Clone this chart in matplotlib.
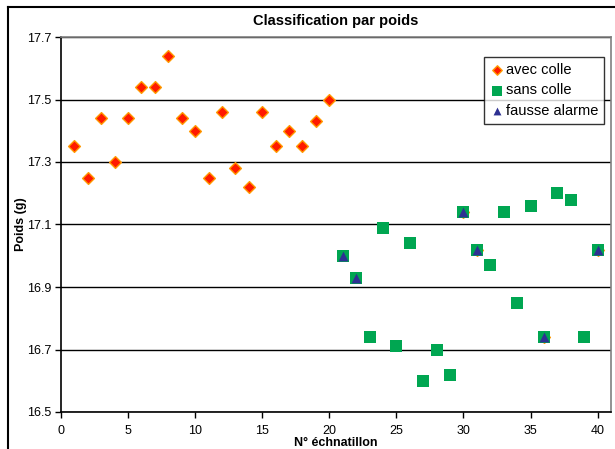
import matplotlib
matplotlib.use("Agg")
import matplotlib.pyplot as plt
from matplotlib.lines import Line2D

plt.rcParams['font.family'] = ['Liberation Sans', 'DejaVu Sans']

# Data
x_avec = list(range(1, 21)) + [30, 31, 36, 40]
y_avec = [17.35, 17.25, 17.44, 17.30, 17.44, 17.54, 17.54, 17.64, 17.44, 17.40,
          17.25, 17.46, 17.28, 17.22, 17.46, 17.35, 17.40, 17.35, 17.43, 17.50,
          17.14, 17.02, 16.74, 17.02]
x_sans = list(range(21, 41))
y_sans = [17.00, 16.93, 16.74, 17.09, 16.71, 17.04, 16.60, 16.70, 16.62, 17.14,
          17.02, 16.97, 17.14, 16.85, 17.16, 16.74, 17.20, 17.18, 16.74, 17.02]
x_fausse = [21, 22, 30, 31, 36, 40]
y_fausse = [17.00, 16.93, 17.14, 17.02, 16.74, 17.02]

yticks = [16.5, 16.7, 16.9, 17.1, 17.3, 17.5, 17.7]
xticks = [0, 5, 10, 15, 20, 25, 30, 35, 40]

fig = plt.figure(figsize=(6.15, 4.49), dpi=100)
ax = fig.add_axes([61/615, 1-412/449, (611-61)/615, (412-37)/449])

ax.scatter(x_avec, y_avec, marker='D', s=36, facecolor='#FF1A00', edgecolor='#FF9900',
           linewidth=1.0, label='avec colle', zorder=3)
ax.scatter(x_sans, y_sans, marker='s', s=66, facecolor='#00A651', edgecolor='#00A651',
           linewidth=0, label='sans colle', zorder=4)
ax.scatter(x_fausse, y_fausse, marker='^', s=50, facecolor='#2E3192', edgecolor='#2E3192',
           linewidth=0, label='fausse alarme', zorder=5)

ax.set_xlim(0, 41)
ax.set_ylim(16.5, 17.7)
ax.set_xticks(xticks)
ax.set_yticks(yticks)
ax.set_xticklabels([str(v) for v in xticks], fontsize=9)
ax.set_yticklabels([f"{v:.1f}" for v in yticks], fontsize=9)
ax.yaxis.grid(True, color='black', linewidth=1.0)
ax.set_axisbelow(True)
ax.tick_params(axis='y', direction='out', length=4, width=1, color='black', pad=3)
ax.tick_params(axis='x', direction='out', length=4, width=1, color='black', pad=5)

for side in ['top', 'right']:
    ax.spines[side].set_color('#808080')
    ax.spines[side].set_linewidth(1.2)
for side in ['left', 'bottom']:
    ax.spines[side].set_color('black')
    ax.spines[side].set_linewidth(1.2)

ax.set_title('Classification par poids', fontsize=10.5, fontweight='bold', pad=9)
ax.set_ylabel('Poids (g)', fontsize=9, fontweight='bold', labelpad=0)
ax.set_xlabel('N° échnatillon', fontsize=9, fontweight='bold', labelpad=0)

leg = ax.legend(loc='upper right', bbox_to_anchor=(604/615, 1-57/449),
                bbox_transform=fig.transFigure, frameon=True, fancybox=False,
                fontsize=10.5, handletextpad=0.1, handlelength=1.0,
                borderpad=0.4, labelspacing=0.45, borderaxespad=0,
                markerscale=0.8)
leg.get_frame().set_edgecolor('black')
leg.get_frame().set_linewidth(1.0)

# Outer chart border
fig.add_artist(Line2D([8/615, 8/615], [0, 1-7/449], transform=fig.transFigure,
                      color='black', linewidth=1.5))
fig.add_artist(Line2D([8/615, 1], [1-7/449, 1-7/449], transform=fig.transFigure,
                      color='black', linewidth=1.5))

fig.savefig('out.png', dpi=100)
